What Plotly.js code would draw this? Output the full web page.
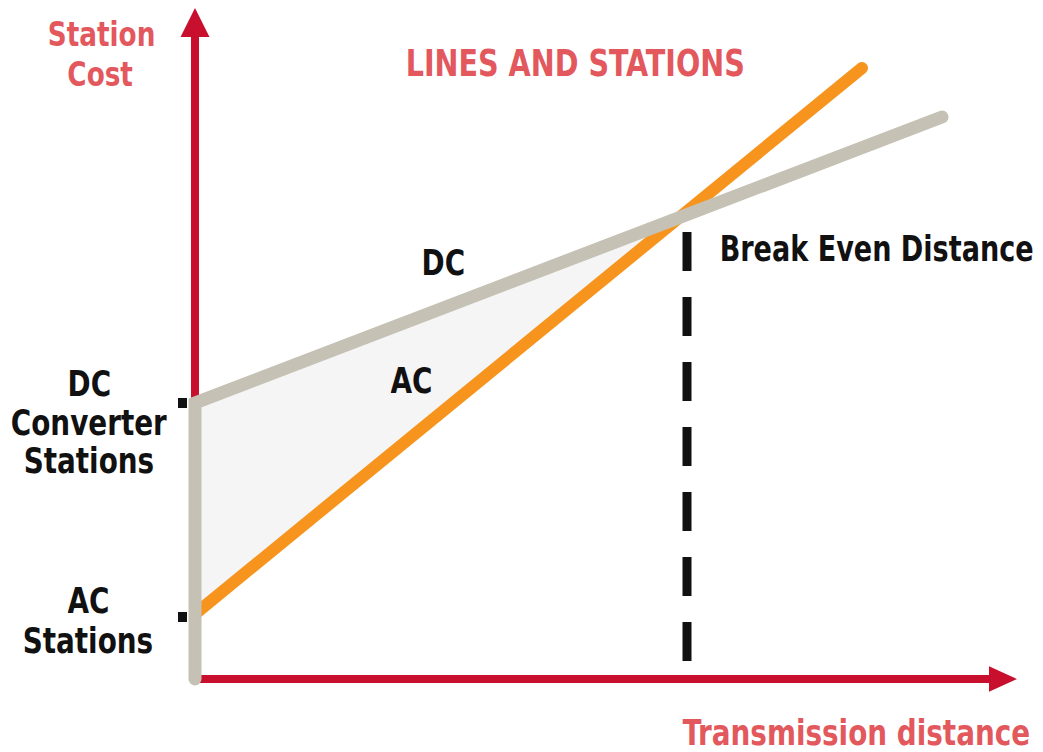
<!DOCTYPE html>
<html>
<head>
<meta charset="utf-8">
<script src="https://cdn.plot.ly/plotly-3.0.1.min.js"></script>
<style>
  html, body { margin: 0; padding: 0; background: #fff; }
  #chart { width: 1043px; height: 752px; }
  .scatterlayer .js-line { stroke-linecap: round; }
</style>
</head>
<body>
<div id="chart"></div>
<script>
// ---- Data (arbitrary conceptual units) ----
const dcDistance = [0, 74.7];        // DC line: distance
const dcCost     = [27.6, 56.2];     // DC line: station + line cost
const acDistance = [0, 66.7];        // AC line: distance
const acCost     = [6.5, 61.1];      // AC line: station + line cost
const stationCostTicks = [6.2, 27.6];          // AC stations, DC converter stations
const stationLabels = [["AC", "Stations"], ["DC", "Converter", "Stations"]];
const breakEvenDistance = 49.2;
const breakEvenDashRange = [44.7, 1.4];        // top, bottom of the dashed marker

// ---- Styles ----
const RED = '#c8102e';
const TEXTRED = '#e2585d';
const ORANGE = '#f7941e';
const GRAY = '#c5c2b5';
const FONT = 'Liberation Sans Narrow, DejaVu Sans Condensed, Arial Narrow, sans-serif';

// intersection of the two straight lines (for the shaded region)
const sDC = (dcCost[1] - dcCost[0]) / (dcDistance[1] - dcDistance[0]);
const sAC = (acCost[1] - acCost[0]) / (acDistance[1] - acDistance[0]);
const xi = (acCost[0] - dcCost[0]) / (sDC - sAC);
const yi = dcCost[0] + sDC * xi;

const traces = [
  { // shaded area between DC and AC up to break-even
    x: [0, xi, 0], y: [dcCost[0], yi, acCost[0]],
    mode: 'lines', fill: 'toself', fillcolor: '#f5f5f5',
    line: { width: 0, color: 'rgba(0,0,0,0)' }, hoverinfo: 'skip'
  },
  { // AC line
    x: acDistance, y: acCost, mode: 'lines',
    line: { color: ORANGE, width: 12 }
  },
  { // DC line incl. converter station step at zero distance
    x: [0, 0].concat(dcDistance), y: [0, dcCost[0]].concat(dcCost),
    mode: 'lines', line: { color: GRAY, width: 13 }
  }
];

// axis range: 1 unit = 10 px, origin at pixel (195, 679)
const xr = [-19.5, 84.8];
const yr = [-7.3, 67.9];

const shapes = [
  { type: 'line', layer: 'below', x0: 0, x1: 0, y0: 0, y1: 64.4, line: { color: RED, width: 8 } },
  { type: 'path', layer: 'below', path: 'M -1.45 64.2 L 1.45 64.2 L 0 67.1 Z', fillcolor: RED, line: { width: 0 } },
  { type: 'line', layer: 'below', x0: 0, x1: 79.6, y0: 0, y1: 0, line: { color: RED, width: 8 } },
  { type: 'path', layer: 'below', path: 'M 79.4 1.28 L 79.4 -1.28 L 82.2 0 Z', fillcolor: RED, line: { width: 0 } },
  { type: 'line', layer: 'above', x0: breakEvenDistance, x1: breakEvenDistance,
    y0: breakEvenDashRange[0], y1: breakEvenDashRange[1],
    line: { color: '#111', width: 9, dash: '39px,26px' } }
];

function px2x(p) { return (p - 195) / 10; }
function px2y(p) { return (679 - p) / 10; }

function txt(text, px, py, color, size) {
  return { text: text, x: px2x(px), y: px2y(py), xref: 'x', yref: 'y', showarrow: false,
    xanchor: 'center', yanchor: 'middle', height: 34, borderpad: 0,
    font: { family: FONT, size: size || 36, color: color, weight: 'bold' } };
}

const annotations = [
  txt('Station', 101, 34, TEXTRED, 34),
  txt('Cost', 100, 74, TEXTRED, 34),
  txt('LINES AND STATIONS', 575, 63, TEXTRED, 37),
  txt('DC', 443, 262, '#111'),
  txt('AC', 411, 380, '#111'),
  txt('Break Even Distance', 876, 249, '#111', 35),
  txt(stationLabels[1][0], 89, 383, '#111'),
  txt(stationLabels[1][1], 89, 422, '#111'),
  txt(stationLabels[1][2], 89, 460, '#111'),
  txt(stationLabels[0][0], 88, 600, '#111'),
  txt(stationLabels[0][1], 88, 640, '#111'),
  txt('Transmission distance', 856, 732, TEXTRED)
];

const layout = {
  width: 1043, height: 752,
  margin: { l: 0, r: 0, t: 0, b: 0 },
  paper_bgcolor: '#fff', plot_bgcolor: '#fff',
  showlegend: false,
  xaxis: { range: xr, visible: false, fixedrange: true },
  yaxis: { range: yr, anchor: 'free', position: 187 / 1043, showline: false, zeroline: false,
    showgrid: false, ticks: 'outside', ticklen: 9, tickwidth: 10, tickcolor: '#111',
    tickvals: stationCostTicks, showticklabels: false, fixedrange: true },
  shapes: shapes,
  annotations: annotations
};

Plotly.newPlot('chart', traces, layout, { staticPlot: true, displayModeBar: false }).then(function (gd) {
  // the reference uses a narrow (condensed) typeface: squeeze the labels horizontally
  gd.querySelectorAll('.annotation-text').forEach(function (el) {
    el.style.transformBox = 'fill-box';
    el.style.transformOrigin = 'center';
    el.style.transform = 'scaleX(0.86)';
  });
});
</script>
</body>
</html>
